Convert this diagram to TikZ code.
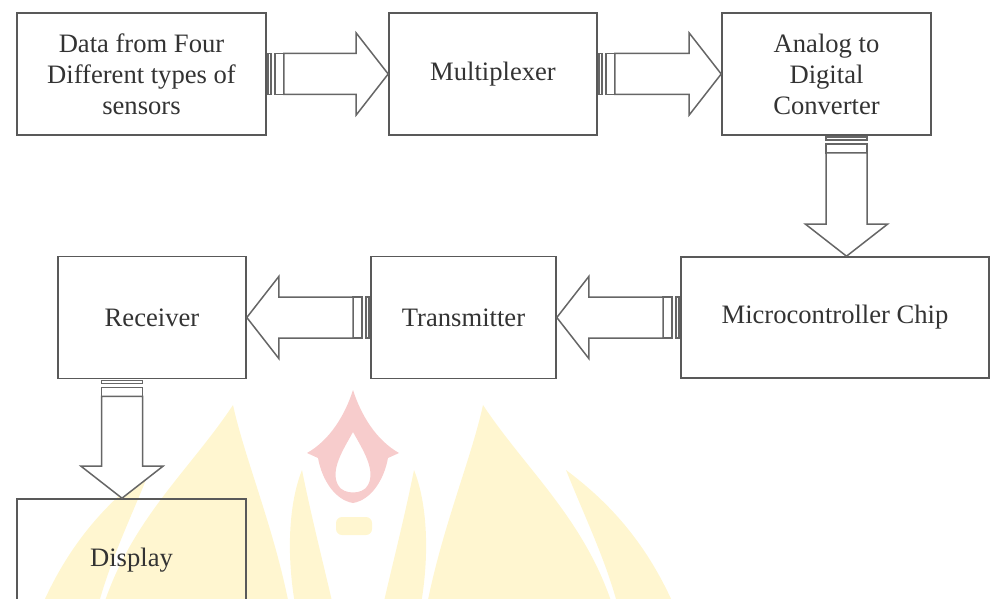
\documentclass[tikz,border=0pt]{standalone}
\usepackage{fontspec}
\setmainfont{Liberation Serif}
\usetikzlibrary{calc}
\definecolor{wmyellow}{RGB}{255,246,208}
\definecolor{wmpink}{RGB}{247,204,204}

\tikzset{
  block/.style={draw=black!65, line width=0.8pt, align=center, inner sep=0pt,
    text=black!80, font=\fontsize{13.3}{15.5}\selectfont},
  stripe/.style={draw=black!60, line width=0.75pt, fill=white},
}

% striped block arrow: from, to, direction
\newcommand{\stripedarrow}[3]{%
  \begin{scope}[shift={(#1)},rotate=#3]
    \draw[stripe] (0.5pt,-10.25pt) rectangle (2pt,10.25pt);
    \draw[stripe] (4pt,-10.25pt) rectangle (8.5pt,10.25pt);
    \draw[stripe] let \p1=($(#2)-(#1)$), \n1={veclen(\x1,\y1)} in
      (8.5pt,-10.25pt) -- (\n1-16pt,-10.25pt) -- (\n1-16pt,-20.5pt) -- (\n1,0pt)
      -- (\n1-16pt,20.5pt) -- (\n1-16pt,10.25pt) -- (8.5pt,10.25pt) -- cycle;
  \end{scope}}

\begin{document}
\begin{tikzpicture}[x=0.5pt,y=0.5pt]
\useasboundingbox (0,0) rectangle (990,-599);
\clip (0,0) rectangle (990,-599);

%watermark
\fill[wmyellow] (40,-610) .. controls (70,-540) and (110,-500) .. (150,-470)
  .. controls (130,-520) and (110,-560) .. (97,-610) -- cycle;
\fill[wmyellow] (102,-610) .. controls (130,-520) and (190,-470) .. (233,-405)
  .. controls (245,-460) and (275,-530) .. (290,-610) -- cycle;
\fill[wmyellow] (296,-610) .. controls (285,-550) and (290,-500) .. (302,-470)
  .. controls (312,-520) and (325,-570) .. (334,-610) -- cycle;
\fill[wmyellow] (676,-610) .. controls (646,-540) and (606,-500) .. (566,-470)
  .. controls (586,-520) and (606,-560) .. (619,-610) -- cycle;
\fill[wmyellow] (614,-610) .. controls (586,-520) and (526,-470) .. (483,-405)
  .. controls (471,-460) and (441,-530) .. (426,-610) -- cycle;
\fill[wmyellow] (420,-610) .. controls (431,-550) and (426,-500) .. (414,-470)
  .. controls (404,-520) and (391,-570) .. (382,-610) -- cycle;
\fill[wmyellow, rounded corners=3pt] (336,-517) rectangle (372,-535);
\fill[wmpink, even odd rule] (353,-390) .. controls (345,-415) and (330,-440) .. (307,-453)
  -- (318,-458) .. controls (322,-480) and (335,-500) .. (353,-503)
  .. controls (371,-500) and (384,-480) .. (388,-458) -- (399,-453)
  .. controls (376,-440) and (361,-415) .. (353,-390) -- cycle
  (353,-432) .. controls (343,-450) and (330,-470) .. (338,-485)
  .. controls (343,-495) and (363,-495) .. (368,-485)
  .. controls (376,-470) and (363,-450) .. (353,-432) -- cycle;

%blocks
\node[block, minimum width=124.5pt, minimum height=61pt] (src) at (141.5,-74)
  {Data from Four\\Different types of\\sensors};
\node[block, minimum width=104pt, minimum height=61pt] (mux) at (493,-74) {Multiplexer};
\node[block, minimum width=104.5pt, minimum height=61pt] (adc) at (826.5,-74)
  {Analog to\\Digital\\Converter};
\node[block, minimum width=154pt, minimum height=60.5pt] (mcu) at (835,-317.5) {Microcontroller Chip};
\node[block, minimum width=92.5pt, minimum height=61pt] (tx) at (463.5,-317.5) {Transmitter};
\node[block, minimum width=94pt, minimum height=61pt] (rx) at (152,-317.5) {Receiver};
\node[block, minimum width=114.5pt, minimum height=61pt] (disp) at (131.5,-560) {Display};

%arrows
\stripedarrow{src.east}{mux.west}{0}
\stripedarrow{mux.east}{adc.west}{0}
\coordinate (adcout) at ([xshift=10pt]adc.south);
\coordinate (mcuin) at (adcout |- mcu.north);
\stripedarrow{adcout}{mcuin}{-90}
\stripedarrow{mcu.west}{tx.east}{180}
\stripedarrow{tx.west}{rx.east}{180}
\coordinate (rxout) at ([xshift=-15pt]rx.south);
\coordinate (dispin) at (rxout |- disp.north);
\stripedarrow{rxout}{dispin}{-90}
\end{tikzpicture}
\end{document}
